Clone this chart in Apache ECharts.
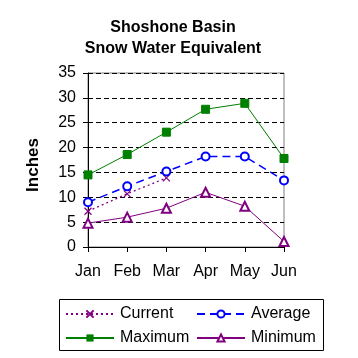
<!DOCTYPE html>
<html>
<head>
<meta charset="utf-8">
<script src="https://cdn.jsdelivr.net/npm/echarts@6/dist/echarts.min.js"></script>
<style>
html,body{margin:0;padding:0;background:#fff;}
#chart{width:358px;height:358px;}
</style>
</head>
<body>
<div id="chart"></div>
<script>
const months = ['Jan', 'Feb', 'Mar', 'Apr', 'May', 'Jun'];
const currentValues = [7.2, 10.7, 13.9, null, null, null];
const averageValues = [9.0, 12.2, 15.2, 18.2, 18.2, 13.4];
const maximumValues = [14.5, 18.6, 23.1, 27.7, 28.9, 17.8];
const minimumValues = [4.8, 6.0, 7.8, 11.0, 8.2, 1.1];
const yTicks = [0, 5, 10, 15, 20, 25, 30, 35];

const FONT = 'Liberation Sans, Arial, sans-serif';
const purple = '#800080', blue = '#0000FF', green = '#008000';

const chart = echarts.init(document.getElementById('chart'), null, {renderer: 'canvas'});
chart.setOption({
  animation: false,
  backgroundColor: '#fff',
  title: {
    text: 'Shoshone Basin\nSnow Water Equivalent',
    left: 173, top: 17, padding: 0, textAlign: 'center',
    textStyle: {fontFamily: FONT, fontSize: 16, fontWeight: 'bold', color: '#000', lineHeight: 21}
  },
  grid: {left: 88, right: 74, top: 73, bottom: 111, show: true, borderColor: '#808080', borderWidth: 1, backgroundColor: 'transparent'},
  xAxis: {
    type: 'category', data: months, boundaryGap: false,
    axisLine: {lineStyle: {color: '#000', width: 1}},
    axisTick: {show: true, length: 5, inside: false, interval: 0, lineStyle: {color: '#000'}},
    axisLabel: {fontFamily: FONT, fontSize: 16, color: '#000', margin: 17, interval: 0},
    splitLine: {show: false}
  },
  yAxis: {
    type: 'value', min: yTicks[0], max: yTicks[yTicks.length - 1], interval: 5,
    name: 'Inches', nameLocation: 'middle', nameGap: 46, nameRotate: 90,
    nameTextStyle: {fontFamily: FONT, fontSize: 17, fontWeight: 'bold', color: '#000', padding: [0, 10, 0, 0]},
    axisLine: {show: true, lineStyle: {color: '#000', width: 1}},
    axisTick: {show: true, length: 5, lineStyle: {color: '#000'}},
    axisLabel: {fontFamily: FONT, fontSize: 16, color: '#000', margin: 12},
    splitLine: {show: true, lineStyle: {color: '#000', type: [5, 3], width: 1}}
  },
  legend: [
    {
      data: ['Current', 'Maximum'], orient: 'vertical', left: 65, top: 306, padding: 0,
      itemWidth: 48, itemHeight: 9, itemGap: 8,
      textStyle: {fontFamily: FONT, fontSize: 16, color: '#000', padding: [0, 0, 0, 1]}
    },
    {
      data: ['Average', 'Minimum'], orient: 'vertical', left: 196, top: 306, padding: 0,
      itemWidth: 48, itemHeight: 9, itemGap: 8,
      textStyle: {fontFamily: FONT, fontSize: 16, color: '#000', padding: [0, 0, 0, 1]}
    }
  ],
  graphic: [{
    type: 'rect', left: 59, top: 299, z: -1,
    shape: {width: 264, height: 51},
    style: {fill: '#fff', stroke: '#000', lineWidth: 1}
  }],
  series: [
    {
      name: 'Current', type: 'line', data: currentValues, connectNulls: false,
      symbol: 'path://M0,0L10,10M10,0L0,10', symbolSize: 7,
      color: purple,
      lineStyle: {color: purple, width: 1.3, type: [2, 3]},
      itemStyle: {color: 'none', borderColor: purple, borderWidth: 1.2}
    },
    {
      name: 'Average', type: 'line', data: averageValues,
      symbol: 'emptyCircle', symbolSize: 8,
      color: blue,
      lineStyle: {color: blue, width: 1.5, type: [8, 5]},
      itemStyle: {color: blue, borderColor: blue, borderWidth: 1}
    },
    {
      name: 'Maximum', type: 'line', data: maximumValues,
      symbol: 'rect', symbolSize: 8,
      color: green,
      lineStyle: {color: green, width: 1},
      itemStyle: {color: green, borderColor: green}
    },
    {
      name: 'Minimum', type: 'line', data: minimumValues,
      symbol: 'emptyTriangle', symbolSize: 9,
      color: purple,
      lineStyle: {color: purple, width: 1},
      itemStyle: {color: purple, borderColor: purple, borderWidth: 1}
    }
  ]
});
</script>
</body>
</html>
